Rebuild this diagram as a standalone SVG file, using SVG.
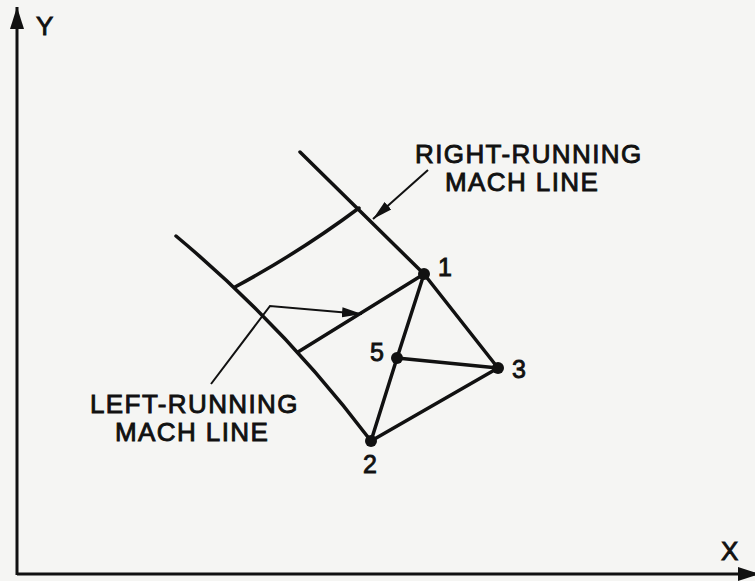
<svg xmlns="http://www.w3.org/2000/svg" width="755" height="581" viewBox="0 0 755 581">
<style>
.ln{fill:none;stroke:#111;stroke-width:3.5;stroke-linecap:round;stroke-linejoin:round}
.ax{fill:none;stroke:#111;stroke-width:3}
.ld{fill:none;stroke:#111;stroke-width:2}
.t{font-family:"Liberation Sans",Arial,sans-serif;font-size:26px;letter-spacing:1.4px;fill:#111;stroke:#111;stroke-width:0.9}
.n{font-family:"Liberation Sans",Arial,sans-serif;font-size:25px;fill:#111;stroke:#111;stroke-width:0.9}
.dot{fill:#111}
</style>
<defs>
<marker id="axh" markerUnits="userSpaceOnUse" markerWidth="24" markerHeight="16" refX="22" refY="8" orient="auto">
<path d="M0,1 L22,8 L0,15 Z" fill="#111"/>
</marker>
<marker id="ldh" markerUnits="userSpaceOnUse" markerWidth="22" markerHeight="12" refX="20" refY="6" orient="auto">
<path d="M0,1 L20,6 L0,11 Z" fill="#111"/>
</marker>
</defs>
<rect width="755" height="581" fill="#f5f5f3"/>
<g id="axes">
<line class="ax" x1="17" y1="575" x2="17" y2="7" marker-end="url(#axh)"/>
<line class="ax" x1="17" y1="574" x2="760" y2="574" marker-end="url(#axh)"/>
<text class="t" x="36" y="35" font-size="27" letter-spacing="0">Y</text>
<text class="t" x="721" y="560" font-size="27" letter-spacing="0">X</text>
</g>
<g id="connectors">
<path id="right-boundary" class="ln" d="M300,152 L424,274 L498,368"/>
<path id="left-boundary" class="ln" d="M176,236 Q285,327 371,441"/>
<path id="upper-cross" class="ln" d="M235,287 Q300,252 359,208"/>
<path id="lower-cross" class="ln" d="M298,352 L424,274"/>
<line class="ln" x1="424" y1="274" x2="397" y2="358"/>
<line class="ln" x1="397" y1="358" x2="371" y2="441"/>
<line class="ln" x1="397" y1="358" x2="498" y2="368"/>
<line class="ln" x1="371" y1="441" x2="498" y2="368"/>
<line class="ld" x1="428" y1="170" x2="373" y2="219" marker-end="url(#ldh)"/>
<path class="ld" d="M211,384 L270,306 L362,314" marker-end="url(#ldh)"/>
</g>
<g id="node-1"><circle class="dot" cx="424" cy="274" r="6"/><text class="n" x="438" y="276">1</text></g>
<g id="node-5"><circle class="dot" cx="397" cy="358" r="6"/><text class="n" x="370" y="361">5</text></g>
<g id="node-3"><circle class="dot" cx="498" cy="368" r="6"/><text class="n" x="512" y="378">3</text></g>
<g id="node-2"><circle class="dot" cx="371" cy="441" r="6"/><text class="n" x="363" y="473">2</text></g>
<g id="label-right">
<text class="t" x="415" y="163">RIGHT-RUNNING</text>
<text class="t" x="445" y="191">MACH LINE</text>
</g>
<g id="label-left">
<text class="t" x="90" y="413">LEFT-RUNNING</text>
<text class="t" x="115" y="441">MACH LINE</text>
</g>
</svg>
